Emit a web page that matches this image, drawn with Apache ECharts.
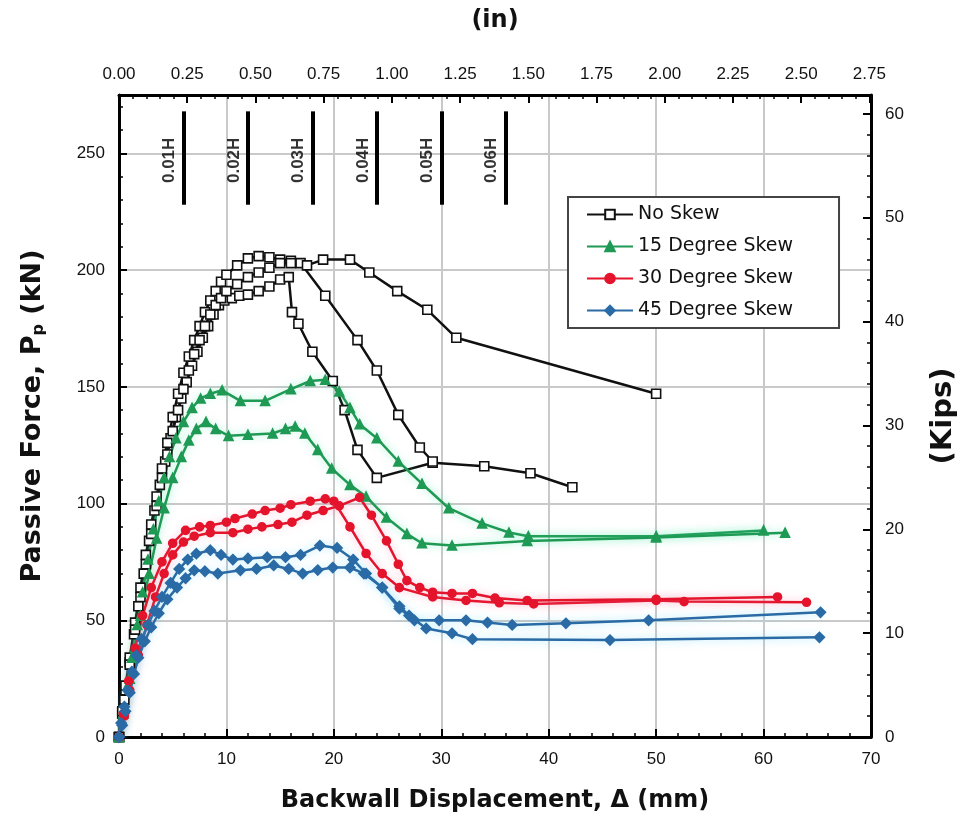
<!DOCTYPE html>
<html>
<head>
<meta charset="utf-8">
<script src="https://cdn.jsdelivr.net/npm/echarts@6/dist/echarts.min.js"></script>
<style>html,body{margin:0;padding:0;background:#fff}#c{width:966px;height:827px}</style>
</head>
<body>
<div id="c"></div>
<script>
// ---------- data (x: displacement mm, y: passive force kN) ----------
const noSkew1 = [[0,0],[0.3,10],[0.6,20],[1,32],[1.4,44],[1.8,56],[2.3,70],[2.8,84],[3.3,97],[3.8,108],[4.3,118],[4.8,128],[5.3,137],[5.8,145],[6.3,152],[6.8,159],[7.3,165],[7.8,171],[8.3,176],[8.8,181],[9.3,185],[9.8,187],[10.5,188],[11.2,189],[12,189.5],[13,191],[14,193],[15,196],[15.8,197],[16.1,182],[16.7,177],[18,165],[19.9,152.5],[21,140],[22.2,123],[24,111],[29.2,117.5],[34,116],[38.3,113],[42.2,107]];
const noSkew2 = [[0,0],[0.3,11],[0.6,22],[1,34],[1.5,49],[2,64],[2.5,78],[3,91],[3.5,103],[4,115],[4.5,126],[5,137],[5.5,147],[6,156],[6.5,163],[7,170],[7.5,176],[8,182],[8.5,187],[9,191],[9.5,195],[10,198],[11,202],[12,205],[13,206],[14,205.5],[15,204.5],[16,204],[16.9,203],[19.2,189],[22.2,170],[24,157],[26,138],[28,124],[29.2,118]];
const noSkew3 = [[0,0],[0.5,16],[1,31],[1.5,46],[2,60],[2.5,74],[3,87],[3.5,99],[4,111],[4.5,121],[5,131],[5.5,140],[6,149],[6.5,157],[7,164],[7.5,170],[8,176],[8.5,181],[9,185],[9.5,188],[10,191],[11,194],[12,197],[13,199],[14,201],[15,203],[16,203],[17.5,202],[19,204.5],[21.5,204.5],[23.3,199],[25.9,191],[28.7,183],[31.4,171],[50,147]];

const skew15a = [[0,0],[0.4,10],[0.8,22],[1.2,34],[1.7,48],[2.2,62],[2.7,76],[3.2,89],[3.7,101],[4.2,111],[4.7,120],[5.3,128],[6,135],[6.8,141],[7.6,145],[8.5,147],[9.6,148.5],[11.3,144],[13.6,144],[16,149],[17.8,152.5],[19.2,153],[20.5,148],[21.5,141],[22.4,134],[24,128],[26,118],[28.2,108.5],[30.7,98],[33.8,91.5],[36.3,87.6],[38.1,86],[50,86],[60,88.5]];
const skew15b = [[0,0],[0.5,12],[1,25],[1.5,38],[2,52],[2.8,70],[3.5,85],[4.2,98],[5,111],[5.8,120],[6.5,127],[7.2,132],[8.1,135],[9,132],[10.2,129],[12,129.5],[14.3,130],[15.5,132],[16.4,133],[17.3,130],[18.5,123],[19.8,115],[21.5,108],[23,103],[24.9,94],[26.8,87],[28.2,83],[31,82],[38,84],[50,85.5],[62,87.5]];

const skew30a = [[0,0],[0.4,10],[0.9,24],[1.5,38],[2.2,52],[3,64],[4,75],[5,83],[6.2,88.5],[7.5,90],[8.5,90.6],[10,92],[10.8,93.6],[12.4,95.5],[13.6,97],[15,98],[16,99.5],[17.8,101],[19.2,102],[20,101],[21.5,90],[23,78.6],[24.5,70],[26.1,64],[29.2,60],[32.3,58.5],[35.4,57.5],[38.6,57],[50,58.5],[52.6,58],[64,57.7]];
const skew30b = [[0,0],[0.5,9],[1,20],[1.8,35],[2.6,48],[3.4,60],[4.2,70],[5,78],[6,83.5],[7,86],[8.5,87.5],[10.6,87.5],[12,89],[13.3,90],[14.8,91],[16.1,92],[17.5,95],[19,97],[20.5,99],[22.4,102.6],[23.5,95],[24.9,84],[26,74],[26.8,67],[28,64],[29.2,62],[31,61.5],[32.9,61.5],[35,59.5],[38,58.5],[50,59],[61.3,60]];

const skew45a = [[0,0],[0.2,6],[0.5,13],[0.8,20],[1.2,28],[1.6,35],[2.1,42],[2.7,48],[3.3,54],[4,60],[4.8,66],[5.6,72],[6.4,76],[7.2,78.5],[8.5,80],[9.5,78],[10.6,76],[12,76.5],[13.8,77],[15.5,77],[16.9,78],[18.7,82],[20.3,81],[21.8,76],[23,70],[24.5,64],[26.1,55],[27.5,50],[29.8,50],[32.3,50],[34.3,49],[36.6,48],[41.6,48.7],[49.3,50],[65.3,53.4]];
const skew45b = [[0,0],[0.3,5],[0.6,11],[1,19],[1.4,27],[1.8,34],[2.4,41],[3,47],[3.7,53],[4.5,59],[5.4,64],[6.2,68],[7,71.4],[8,71],[9.2,70],[11.3,71.4],[12.8,72],[14.4,73.5],[15.8,72],[17.1,70],[18.5,71.5],[19.9,72.6],[21.5,72.6],[22.8,70],[24.5,64],[26.1,56],[27,52],[28.6,46.5],[31,44.4],[32.9,41.9],[45.7,41.5],[65.2,42.7]];

const seriesNames = ['No Skew','15 Degree Skew','30 Degree Skew','45 Degree Skew'];

// displacement-to-height ratio markers
const hMarks = [6,12,18,24,30,36];
const hLabels = ['0.01H','0.02H','0.03H','0.04H','0.05H','0.06H'];
const hBar = [228,268];
const hLabelY = 247;

// axes
const xMax = 70, yMax = 275;
const mmPerIn = 25.4, kNPerKip = 4.44822;

// ---------- chart ----------
const chart = echarts.init(document.getElementById('c'), null, {renderer:'canvas'});
const FONT = 'Liberation Sans, Arial, sans-serif';
const WIDE = 'DejaVu Sans, Liberation Sans, sans-serif';

function mkSeries(name, data, color, symbol, size, fill, glow){
  return {
    name, type:'line', data, xAxisIndex:0, yAxisIndex:0,
    symbol, symbolSize:size, showSymbol:true, z:3,
    lineStyle:{color, width:2.5, shadowBlur: glow?8:0, shadowColor: glow||'transparent'},
    itemStyle:{color: fill, borderColor: color, borderWidth: 1.6},
    emphasis:{disabled:true}, animation:false
  };
}
const BLACK='#111', GREEN='#1f9a55', RED='#e4142c', BLUE='#2a6ba6';

const series = [
  mkSeries(seriesNames[0], noSkew1, BLACK, 'rect', 9, '#fff', null),
  mkSeries(seriesNames[0], noSkew2, BLACK, 'rect', 9, '#fff', null),
  mkSeries(seriesNames[0], noSkew3, BLACK, 'rect', 9, '#fff', null),
  mkSeries(seriesNames[1], skew15a, GREEN, 'triangle', 9, GREEN, 'rgba(60,230,160,0.55)'),
  mkSeries(seriesNames[1], skew15b, GREEN, 'triangle', 9, GREEN, 'rgba(60,230,160,0.55)'),
  mkSeries(seriesNames[2], skew30a, RED, 'circle', 8, RED, 'rgba(255,120,160,0.55)'),
  mkSeries(seriesNames[2], skew30b, RED, 'circle', 8, RED, 'rgba(255,120,160,0.55)'),
  mkSeries(seriesNames[3], skew45a, BLUE, 'diamond', 10, BLUE, 'rgba(80,210,255,0.55)'),
  mkSeries(seriesNames[3], skew45b, BLUE, 'diamond', 10, BLUE, 'rgba(80,210,255,0.55)'),
  {
    name:'hmarks', type:'scatter', xAxisIndex:0, yAxisIndex:0, silent:true, animation:false,
    data: hMarks.map((x,i)=>[x-1.3, hLabelY]),
    symbolSize:1, itemStyle:{color:'rgba(0,0,0,0)'},
    label:{show:true, position:'inside', rotate:90, color:'#000', fontFamily:FONT, fontWeight:'bold', fontSize:17,
      formatter:p=>hLabels[p.dataIndex]},
    markLine:{silent:true, symbol:'none', animation:false,
      lineStyle:{color:'#000', width:4, type:'solid'}, label:{show:false},
      data: hMarks.map(x=>[{coord:[x,hBar[0]]},{coord:[x,hBar[1]]}])}
  }
];

const axisLine = {show:true, onZero:false, lineStyle:{color:'#000', width:3}};
const labelStyle = {color:'#111', fontFamily:FONT, fontSize:17};
const titleStyle = {color:'#111', fontFamily:WIDE, fontWeight:'bold', fontSize:24};

chart.setOption({
  backgroundColor:'#fff',
  animation:false,
  grid:{left:119, right:95, top:95, bottom:90, containLabel:false},
  legend:{
    data:seriesNames, orient:'vertical', left:568, top:197,
    backgroundColor:'#fff', borderColor:'#444', borderWidth:2,
    padding:[8,46,8,18], itemGap:13, itemWidth:46, itemHeight:12,
    textStyle:{color:'#111', fontFamily:WIDE, fontSize:19}
  },
  xAxis:[
    {type:'value', position:'bottom', min:0, max:xMax, interval:10,
     axisLine, axisTick:{inside:true, length:8, lineStyle:{color:'#000', width:2}},
     minorTick:{show:true, splitNumber:5, length:4, lineStyle:{color:'#000', width:1.5}},
     splitLine:{show:true, lineStyle:{color:'#c9c9c9', width:2}},
     axisLabel:Object.assign({margin:14}, labelStyle),
     name:'Backwall Displacement, Δ (mm)', nameLocation:'middle', nameGap:52, nameTextStyle:titleStyle},
    {type:'value', position:'top', min:0, max:xMax/mmPerIn, interval:0.25,
     axisLine, axisTick:{inside:true, length:8, lineStyle:{color:'#000', width:2}},
     minorTick:{show:true, splitNumber:5, length:4, lineStyle:{color:'#000', width:1.5}},
     splitLine:{show:false},
     axisLabel:Object.assign({margin:12, showMaxLabel:false, formatter:v=>v.toFixed(2)}, labelStyle),
     name:'(in)', nameLocation:'middle', nameGap:62, nameTextStyle:titleStyle}
  ],
  yAxis:[
    {type:'value', position:'left', min:0, max:yMax, interval:50,
     axisLine, axisTick:{inside:true, length:8, lineStyle:{color:'#000', width:2}},
     minorTick:{show:true, splitNumber:5, length:4, lineStyle:{color:'#000', width:1.5}},
     splitLine:{show:true, lineStyle:{color:'#c9c9c9', width:2}},
     axisLabel:Object.assign({margin:14, showMaxLabel:false}, labelStyle),
     name:'Passive Force, P{s|p} (kN)', nameLocation:'middle', nameGap:72, nameRotate:90,
     nameTextStyle:Object.assign({}, titleStyle, {fontSize:27, rich:{s:{fontFamily:WIDE, fontWeight:'bold', fontSize:16, verticalAlign:'bottom', padding:[13,0,0,0]}}})},
    {type:'value', position:'right', min:0, max:yMax/kNPerKip, interval:10,
     axisLine, axisTick:{inside:true, length:8, lineStyle:{color:'#000', width:2}},
     minorTick:{show:true, splitNumber:5, length:4, lineStyle:{color:'#000', width:1.5}},
     splitLine:{show:false},
     axisLabel:Object.assign({margin:14, showMaxLabel:false}, labelStyle),
     name:'(Kips)', nameLocation:'middle', nameGap:58, nameRotate:90, nameTextStyle:Object.assign({}, titleStyle, {fontSize:29})}
  ],
  series
});
</script>
</body>
</html>
